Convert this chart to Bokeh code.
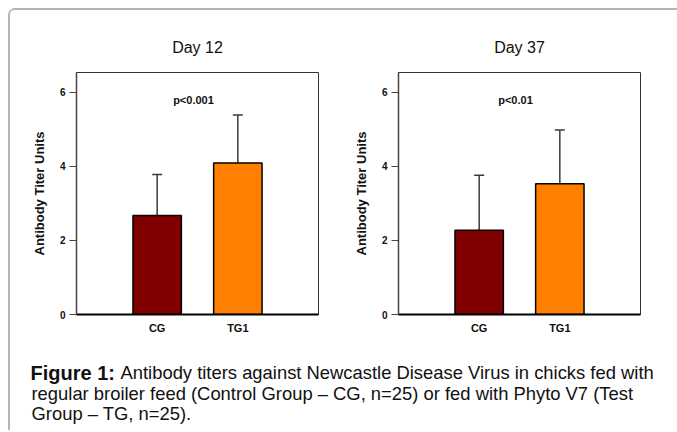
from bokeh.plotting import figure
from bokeh.layouts import row, column
from bokeh.models import (ColumnDataSource, Range1d, FixedTicker, Whisker, TeeHead, Label)
from bokeh.embed import file_html
from bokeh.resources import INLINE

# ---- data ----
groups = ["CG", "TG1"]
bar_colors = ["#800000", "#FF8000"]
titles = ["Day 12", "Day 37"]
p_texts = ["p<0.001", "p<0.01"]
day12_mean = [2.67, 4.09]
day12_sd = [1.11, 1.29]
day37_mean = [2.27, 3.53]
day37_sd = [1.49, 1.45]
y_ticks = [0, 2, 4, 6]
y_label = "Antibody Titer Units"
caption_bold = "Figure 1:"
caption_lines = [
    "Antibody titers against Newcastle Disease Virus in chicks fed with",
    "regular broiler feed (Control Group \u2013 CG, n=25) or fed with Phyto V7 (Test",
    "Group \u2013 TG, n=25).",
]

FONT = "Liberation Sans"


def make_panel(title, means, sds, ptxt, width, min_left, min_right):
    xs = list(range(1, len(groups) + 1))
    src = ColumnDataSource(dict(
        x=xs, top=means, upper=[m + s for m, s in zip(means, sds)], color=bar_colors))
    p = figure(width=width, height=330, x_range=Range1d(0, len(groups) + 1),
               y_range=Range1d(0, 6.53), output_backend="svg", toolbar_location=None,
               min_border_left=min_left, min_border_right=min_right,
               min_border_top=62, min_border_bottom=26, title=title)
    p.title.align = "center"
    p.title.text_font = FONT
    p.title.text_font_style = "normal"
    p.title.text_font_size = "16px"
    p.title.text_color = "#111111"
    p.title.standoff = 34
    p.background_fill_color = "white"
    p.border_fill_color = "white"
    p.outline_line_color = "#333333"
    p.outline_line_width = 1
    p.xgrid.visible = False
    p.ygrid.visible = False

    p.vbar(x="x", top="top", width=0.6, fill_color="color", line_color="black",
           line_width=1.5, source=src)
    w = Whisker(source=src, base="x", lower="top", upper="upper", dimension="height",
                line_color="#3a3a3a", line_width=1.5,
                upper_head=TeeHead(size=10, line_color="#3a3a3a", line_width=1.5),
                lower_head=None)
    p.add_layout(w)

    xa = p.xaxis[0]
    xa.ticker = FixedTicker(ticks=xs)
    xa.major_label_overrides = {x: g for x, g in zip(xs, groups)}
    xa.major_tick_line_color = None
    xa.major_tick_out = 0
    xa.major_tick_in = 0
    xa.minor_tick_line_color = None
    xa.axis_line_color = "black"
    xa.axis_line_width = 2
    xa.major_label_text_font = FONT
    xa.major_label_text_font_style = "bold"
    xa.major_label_text_font_size = "11px"
    xa.major_label_text_color = "#111111"
    xa.major_label_standoff = 7

    ya = p.yaxis[0]
    ya.ticker = FixedTicker(ticks=y_ticks)
    ya.major_tick_out = 7
    ya.major_tick_in = 0
    ya.minor_tick_line_color = None
    ya.axis_line_color = "#444444"
    ya.axis_line_width = 1.5
    ya.major_tick_line_color = "#444444"
    ya.major_label_text_font = FONT
    ya.major_label_text_font_style = "bold"
    ya.major_label_text_font_size = "10px"
    ya.major_label_text_color = "#111111"
    ya.major_label_standoff = 4
    ya.axis_label = y_label
    ya.axis_label_text_font = FONT
    ya.axis_label_text_font_style = "bold"
    ya.axis_label_text_font_size = "13px"
    ya.axis_label_text_color = "#111111"
    ya.axis_label_standoff = 10

    p.add_layout(Label(x=1.45, y=5.8, text=ptxt, text_align="center",
                       text_baseline="alphabetic", text_font=FONT,
                       text_font_style="bold", text_font_size="11px",
                       text_color="#111111"))
    return p


p1 = make_panel(titles[0], day12_mean, day12_sd, p_texts[0], 320, 66, 12)
p2 = make_panel(titles[1], day37_mean, day37_sd, p_texts[1], 337, 68, 27)

CW, CH = 667, 90
cap = figure(width=CW, height=CH, x_range=Range1d(0, CW), y_range=Range1d(CH, 0),
             output_backend="svg", toolbar_location=None, min_border=0,
             x_axis_location=None, y_axis_location=None)
cap.xgrid.visible = False
cap.ygrid.visible = False
cap.outline_line_color = None
cap.background_fill_color = "white"
cap.border_fill_color = "white"
cap.add_layout(Label(x=20, y=32, text=caption_bold, text_font=FONT, text_font_style="bold",
                     text_font_size="20px", text_baseline="alphabetic", text_color="#111111"))
cap.add_layout(Label(x=110, y=32, text=caption_lines[0], text_font=FONT,
                     text_font_size="18.4px", text_baseline="alphabetic", text_color="#111111"))
cap.add_layout(Label(x=21, y=53, text=caption_lines[1], text_font=FONT,
                     text_font_size="18.4px", text_baseline="alphabetic", text_color="#111111"))
cap.add_layout(Label(x=21, y=73, text=caption_lines[2], text_font=FONT,
                     text_font_size="18.4px", text_baseline="alphabetic", text_color="#111111"))

layout = column(row(p1, p2, spacing=0), cap, spacing=0,
                styles={"border-top": "2px solid #b4b4b4", "border-left": "2px solid #b4b4b4",
                        "border-top-left-radius": "7px", "background": "white",
                        "margin-top": "8px", "margin-left": "8px"})

open("out.html", "w").write(file_html(layout, INLINE))
